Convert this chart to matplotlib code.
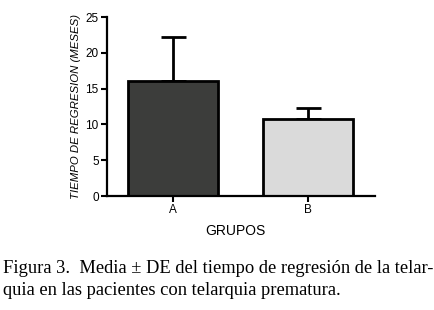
import matplotlib
matplotlib.use("Agg")
import matplotlib.pyplot as plt

categories = ["A", "B"]
means = [16.0, 10.8]
sds = [6.2, 1.5]
colors = ["#3c3d3b", "#dadada"]
yticks = [0, 5, 10, 15, 20, 25]

fig = plt.figure(figsize=(4.34, 3.10), dpi=100)
ax = fig.add_axes([0.2465, 0.3677, 0.6175, 0.5774])
x = list(range(len(categories)))
ax.bar(x, means, width=0.67, color=colors, edgecolor="black", linewidth=2, zorder=2)
ax.errorbar(x, means, yerr=[[0, 0], sds], fmt="none", ecolor="black",
            elinewidth=2, capsize=9, capthick=2, zorder=1)
ax.set_xlim(-0.49, 1.5)
ax.set_ylim(0, 25)
ax.set_yticks(yticks)
ax.set_xticks(x)
ax.set_xticklabels(categories)
for s in ["top", "right"]:
    ax.spines[s].set_visible(False)
for s in ["left", "bottom"]:
    ax.spines[s].set_linewidth(1.6)
ax.tick_params(axis="both", width=1.5, length=4, labelsize=8.5,
               labelfontfamily="Liberation Sans", pad=2)
ax.set_ylabel("TIEMPO DE REGRESION (MESES)", fontsize=8.2, style="italic",
              family="Liberation Sans", labelpad=3)
ax.set_xlabel("GRUPOS", fontsize=10, family="Liberation Sans", labelpad=7)
ax.xaxis.set_label_coords(0.48, -0.155)

fig.text(3 / 434, 1 - 273 / 310, "Figura 3.  Media \u00b1 DE del tiempo de regresi\u00f3n de la telar-",
         fontsize=13.3, family="Liberation Serif", va="baseline", ha="left")
fig.text(3 / 434, 1 - 295 / 310, "quia en las pacientes con telarquia prematura.",
         fontsize=13.3, family="Liberation Serif", va="baseline", ha="left")
fig.savefig("out.png", dpi=100)
